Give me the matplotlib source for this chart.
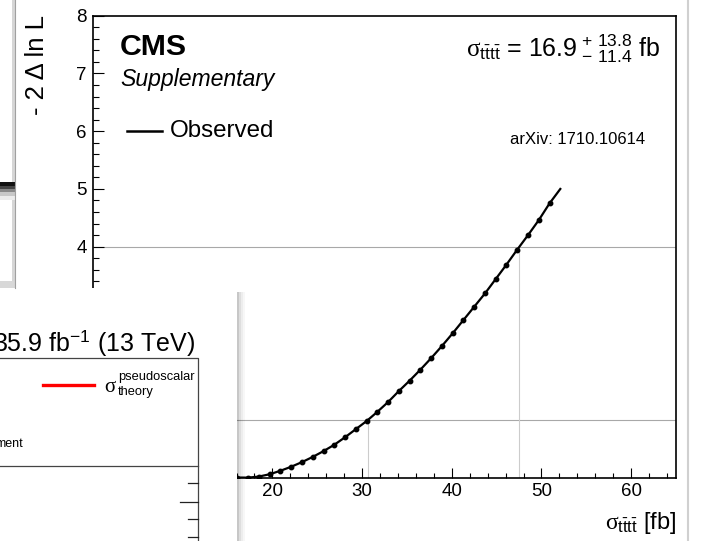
import matplotlib
matplotlib.use("Agg")
import matplotlib.pyplot as plt
from matplotlib.patches import Rectangle
from matplotlib.ticker import MultipleLocator, FuncFormatter

plt.rcParams['font.family'] = 'Liberation Sans'
plt.rcParams['mathtext.fontset'] = 'custom'
plt.rcParams['mathtext.rm'] = 'Liberation Sans'
plt.rcParams['mathtext.it'] = 'Liberation Serif'
plt.rcParams['mathtext.bf'] = 'Liberation Sans:bold'

# likelihood scan
sigma_scan = [16.1, 17.3, 18.5, 19.7, 20.9, 22.1, 23.3, 24.5, 25.7, 26.9,
              28.1, 29.3, 30.5, 31.7, 32.9, 34.1, 35.3, 36.5, 37.7, 38.9,
              40.1, 41.3, 42.5, 43.7, 44.9, 46.1, 47.3, 48.5, 49.7, 50.9, 52.1]
nll_scan = [0.003, 0.001, 0.02, 0.06, 0.12, 0.19, 0.27, 0.36, 0.46, 0.57,
            0.70, 0.84, 0.98, 1.14, 1.31, 1.50, 1.68, 1.87, 2.07, 2.28,
            2.50, 2.73, 2.96, 3.19, 3.44, 3.69, 3.95, 4.20, 4.46, 4.75, 5.00]

# crossing points (1 and 2 sigma)
cross_x = [30.7, 47.5]
cross_y = [1, 4]

W, H = 701, 541
fig = plt.figure(figsize=(W / 100, H / 100), dpi=100)
fig.patch.set_facecolor('white')

# main CMS plot
l, r, t, b = 93, 676, 15.7, 477.7
ax = fig.add_axes([l / W, 1 - b / H, (r - l) / W, (b - t) / H])
ax.set_xlim(0, 65)
ax.set_ylim(0, 8)
ax.xaxis.set_major_locator(MultipleLocator(10))
ax.xaxis.set_minor_locator(MultipleLocator(2))
ax.yaxis.set_major_locator(MultipleLocator(1))
ax.yaxis.set_minor_locator(MultipleLocator(0.2))
# labels that sit under the front window are not shown
ax.xaxis.set_major_formatter(FuncFormatter(lambda v, p: '%d' % v if v > 15 else ''))
ax.yaxis.set_major_formatter(FuncFormatter(lambda v, p: '%d' % v if v > 3.5 else ''))
ax.tick_params(which='both', direction='in', width=0.8, labelsize=13.5,
               top=False, right=False)
ax.tick_params(axis='y', which='major', length=8, pad=4.5)
ax.tick_params(axis='y', which='minor', length=4.3)
ax.tick_params(axis='x', which='major', length=7.2, pad=4)
ax.tick_params(axis='x', which='minor', length=3.8)
for s in ax.spines.values():
    s.set_linewidth(1.2)

for cx, cy in zip(cross_x, cross_y):
    ax.axhline(cy, color='#a8a8a8', lw=0.8, zorder=1)
    ax.plot([cx, cx], [0, cy], color='#cccccc', lw=0.8, zorder=1)

ax.plot(sigma_scan, nll_scan, color='black', lw=1.6, marker='o', ms=3.2,
        markevery=list(range(len(sigma_scan) - 1)), zorder=3)

# overlay in pixel coordinates for texts and the screenshot windows
ov = fig.add_axes([0, 0, 1, 1], zorder=10)
ov.set_xlim(0, W)
ov.set_ylim(H, 0)
ov.axis('off')

ov.text(37, 15, '- 2 \u0394 ln L', rotation=90, ha='center', va='top', fontsize=18.5)
ov.text(676, 529, r'$\sigma_{\mathrm{t}\bar{\mathrm{t}}\mathrm{t}\bar{\mathrm{t}}}$ [fb]',
        ha='right', va='baseline', fontsize=17)
ov.text(120, 55, 'CMS', fontweight='bold', fontsize=21.8, va='baseline')
ov.text(120, 86, 'Supplementary', style='italic', fontsize=16.6, va='baseline')
ov.plot([127, 162], [131, 131], color='black', lw=1.8)
ov.text(170, 131, 'Observed', fontsize=17.4, va='center')
ov.text(660, 57, r'$\sigma_{\mathrm{t}\bar{\mathrm{t}}\mathrm{t}\bar{\mathrm{t}}}$ = 16.9'
        r'$^{\mathrm{\,+\,13.8}}_{\mathrm{\,-\,11.4}}$ fb',
        ha='right', va='baseline', fontsize=18)
ov.text(645, 140, 'arXiv: 1710.10614', ha='right', va='center', fontsize=12)

# window edges in the background
ov.add_patch(Rectangle((12, 0), 4, 288, color='#d6d6d6', lw=0))
ov.plot([15, 15], [0, 288], color='#a0a0a0', lw=0.8)
for y0, h, c in [(182, 4, '#111111'), (186, 3, '#444444'), (189, 3, '#888888'),
                 (192, 4, '#c8c8c8'), (196, 4, '#ececec')]:
    ov.add_patch(Rectangle((0, y0), 15, h, color=c, lw=0))
ov.plot([688, 688], [0, H], color='#d0d0d0', lw=1.5)

# second window in front, lower left, with a soft shadow
for x0, a in [(237, 0.22), (239, 0.13), (241, 0.07), (243, 0.03)]:
    ov.add_patch(Rectangle((x0, 292), 2, H - 292, color='black', alpha=a, lw=0))
ov.add_patch(Rectangle((0, 281), 15, 7, color='#d8d8d8', lw=0))
ov.add_patch(Rectangle((0, 288), 237, H - 288, color='white', lw=0))

ov.text(195, 351, r'35.9 fb$^{\mathrm{-1}}$ (13 TeV)', ha='right', va='baseline', fontsize=18)
ov.plot([0, 198, 198], [357.7, 357.7, H], color='#444444', lw=0.9)
ov.plot([0, 198], [465.7, 465.7], color='#444444', lw=0.9)
for ty, tl in [(483.3, 10), (501.7, 18), (519.3, 10), (537.3, 10)]:
    ov.plot([198 - tl, 198], [ty, ty], color='#222222', lw=0.9)
ov.plot([43, 94], [385, 385], color='red', lw=2.4)
ov.text(104, 392, '\u03c3', family='Liberation Serif', fontsize=15, va='baseline')
ov.text(118, 380, 'pseudoscalar', fontsize=9.3, va='baseline')
ov.text(118, 395, 'theory', fontsize=9.3, va='baseline')
ov.text(-5, 447, 'ment', fontsize=9, va='baseline')

fig.savefig('out.png', dpi=100)
